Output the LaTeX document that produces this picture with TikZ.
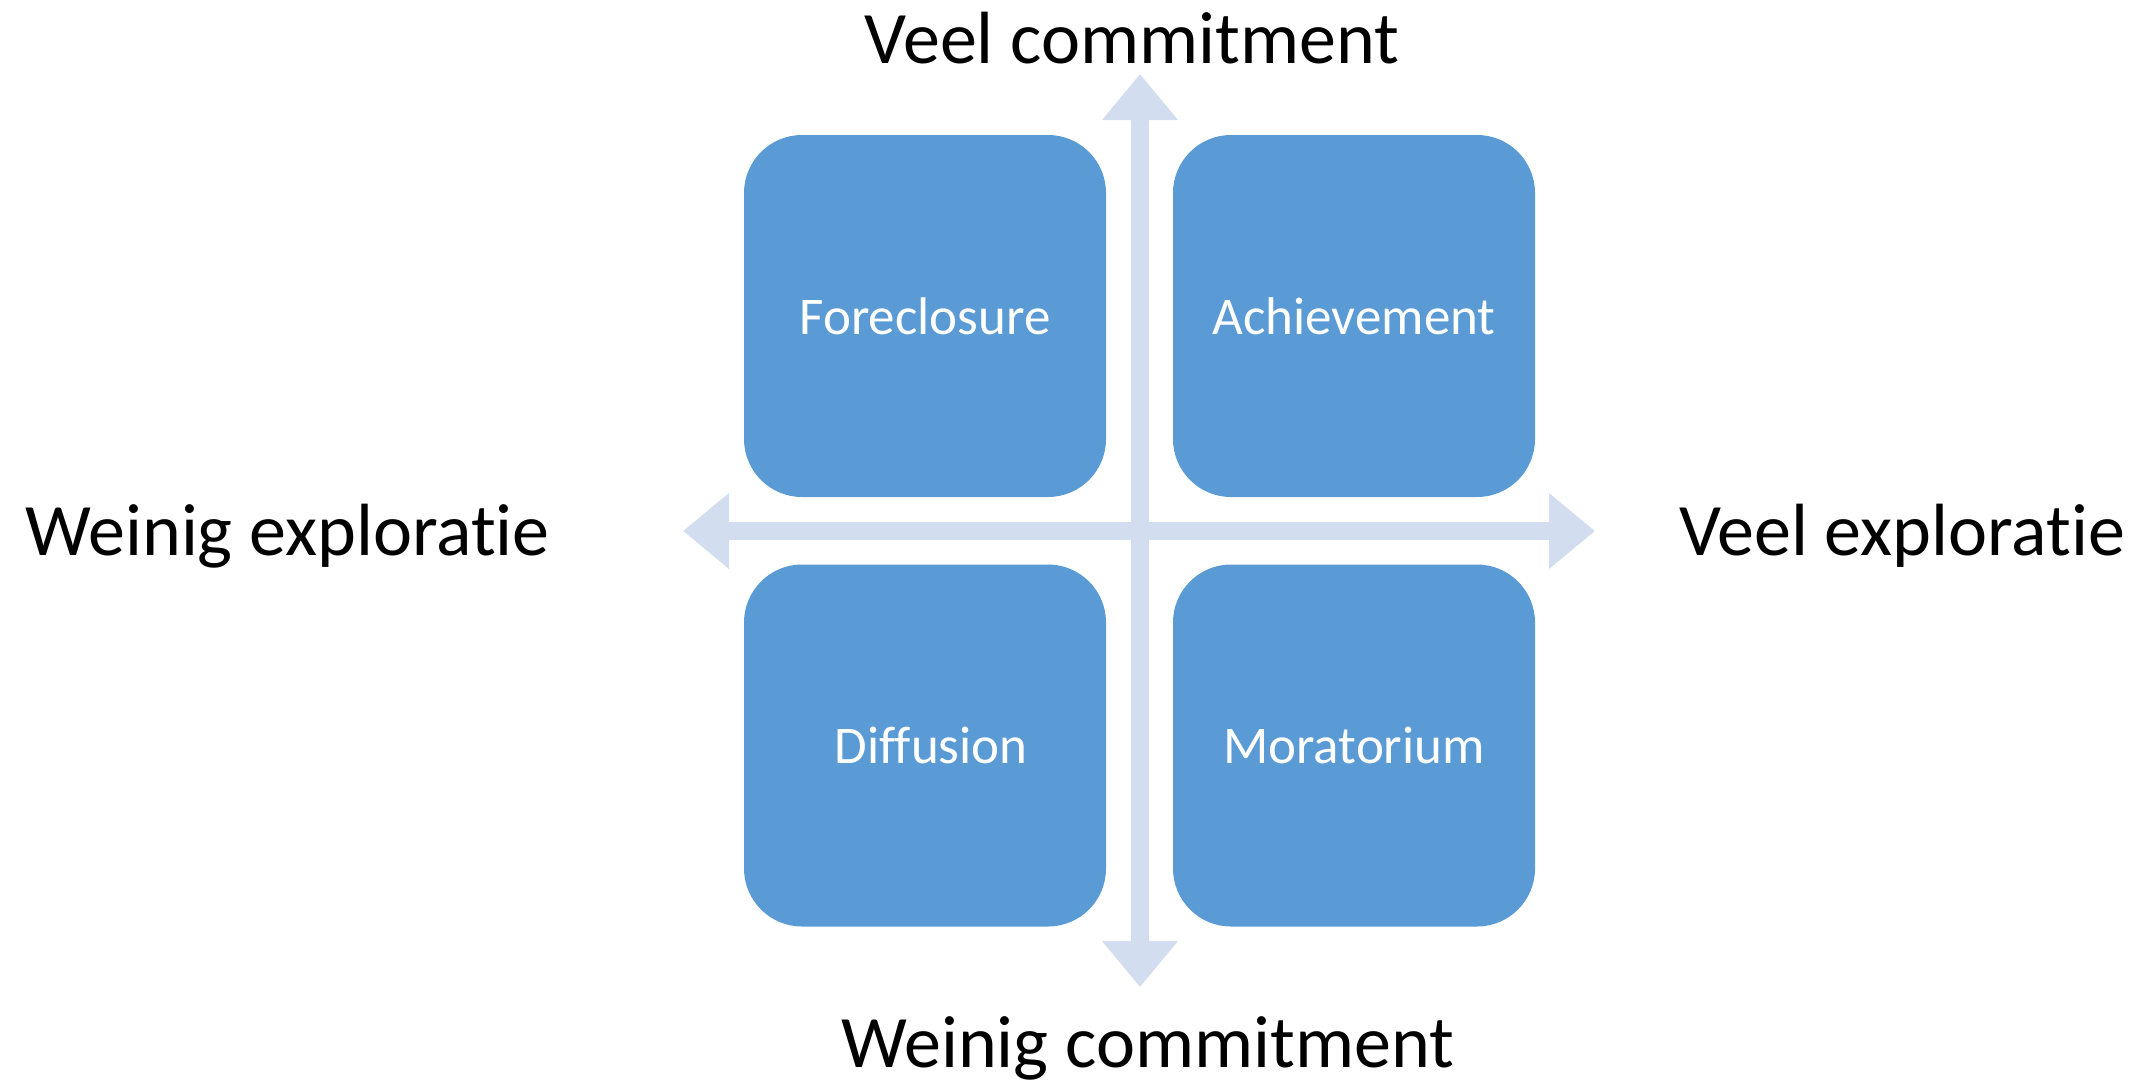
\documentclass[tikz,border=0pt]{standalone}
\usepackage{fontspec}
\setmainfont{Carlito}[Ligatures={NoCommon,NoContextual}]
\usetikzlibrary{arrows.meta}
\definecolor{boxblue}{HTML}{5B9BD5}
\definecolor{arrowblue}{RGB}{210,222,239}
\begin{document}
\begin{tikzpicture}[x=0.5pt,y=-0.5pt,
  quad/.style={fill=boxblue, rounded corners=29pt, minimum width=181pt,
    minimum height=181pt, inner sep=0pt, text=white,
    font=\fontsize{26.5}{30}\selectfont},
  axislabel/.style={anchor=base, inner sep=0pt,
    font=\fontsize{37}{42}\selectfont},
  axisarrow/.style={draw=arrowblue, line width=9pt,
    {Triangle[width=36.5pt,length=23pt]}-{Triangle[width=36.5pt,length=23pt]}}]
\useasboundingbox (0,0) rectangle (2151,1088);
% axis end points
\coordinate (top) at (1140,74);
\coordinate (bottom) at (1140,987);
\coordinate (left) at (683,531);
\coordinate (right) at (1595,531);
\draw[axisarrow] (left) -- (right);
\draw[axisarrow] (bottom) -- (top);
% quadrants
\node[quad] (fore) at (925,316) {Foreclosure};
\node[quad] (ach) at (1354,316) {Achievement};
\node[quad] (diff) at (925,745.5) {\hspace*{6pt}Diffusion};
\node[quad] (mor) at (1354,745.5) {Moratorium};
% axis labels
\node[axislabel] (vc) at (1132,63) {Veel commitment};
\node[axislabel] (wc) at (1147.5,1067) {Weinig commitment};
\node[axislabel] (we) at (287.5,555) {Weinig explorat\kern0pt ie};
\node[axislabel] (ve) at (1902,555) {Veel explorat\kern0pt ie};
\end{tikzpicture}
\end{document}
